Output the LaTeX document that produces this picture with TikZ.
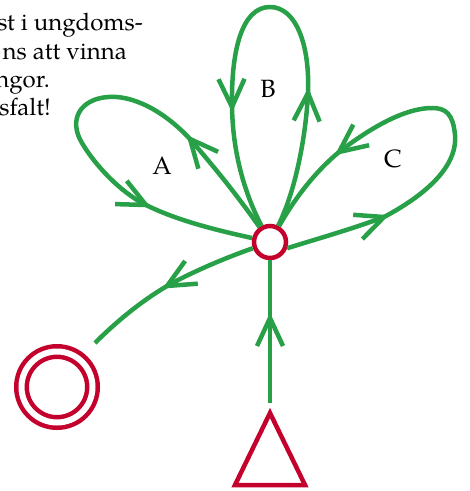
\documentclass[tikz,border=0pt]{standalone}
\usepackage{fontspec}
\setmainfont{TeX Gyre Pagella}
\usetikzlibrary{decorations.markings}
\definecolor{gr}{RGB}{40,160,72}
\definecolor{rd}{RGB}{196,0,44}
\begin{document}
\begin{tikzpicture}[x=1pt,y=-1pt,
  edge/.style={draw=gr, line width=4.5pt},
  arrowend/.style={postaction={decorate}, decoration={markings, mark=at position 0.9999 with {\draw[gr, line width=4.5pt, line cap=butt, line join=miter] (-28pt,13pt) -- (0pt,0pt) -- (-28pt,-13pt);}}},
  state/.style={circle, draw=rd, line width=4.5pt, inner sep=0pt, minimum size=32pt},
  final/.style={circle, draw=rd, line width=4.5pt, double=white, double distance=6pt, inner sep=0pt, minimum size=71pt},
  lbl/.style={font=\fontsize{25}{30}\selectfont, inner sep=0pt},
  txt/.style={font=\fontsize{24}{29}\selectfont, inner sep=0pt, anchor=base east}]
\useasboundingbox (0,0) rectangle (470,491);
% text
\node[txt] (t1) at (143,30) {st i ungdoms-};
\node[txt] (t2) at (127,59) {ns att vinna};
\node[txt] (t3) at (50,87) {ngor.};
\node[txt] (t4) at (51,115) {sfalt!};
% states
\node[state] (c) at (270,242) {};
\node[final] (f) at (57,387) {};
\draw[rd, line width=4.5pt, line join=miter] (270,413) -- (305,485) -- (235,485) -- cycle;
\coordinate (tri) at (270,403);
% labels
\node[lbl] (la) at (162,166) {A};
\node[lbl] (lb) at (268,89) {B};
\node[lbl] (lc) at (393,159) {C};
% coordinates
\coordinate (a1) at (190,139);
\coordinate (atop) at (108,97);
\coordinate (a2) at (146,205);
\coordinate (b1) at (308,93);
\coordinate (btop) at (270,7);
\coordinate (b2) at (232,107);
\coordinate (c1) at (384,217);
\coordinate (crt) at (455,135);
\coordinate (ctop) at (432,108);
\coordinate (c2) at (339,152);
\coordinate (l1) at (167,286);
\coordinate (lend) at (95,343);
\coordinate (v1) at (270,318);
% loop A
\draw[edge, arrowend] (c) .. controls (232,188) and (208,160) .. (a1);
\draw[edge] (a1) .. controls (163,110) and (132,95) .. (atop);
\draw[edge, arrowend] (atop) .. controls (80,99) and (68,120) .. (82,143) .. controls (95,165) and (120,192) .. (a2);
\draw[edge] (a2) .. controls (180,222) and (225,232) .. (c);
% loop B
\draw[edge, arrowend] (c) .. controls (296,190) and (306,135) .. (b1);
\draw[edge] (b1) .. controls (310,45) and (296,7) .. (btop);
\draw[edge, arrowend] (btop) .. controls (242,7) and (231,50) .. (b2);
\draw[edge] (b2) .. controls (233,160) and (248,200) .. (c);
% loop C
\draw[edge, arrowend] (c.-20) .. controls (320,238) and (355,228) .. (c1);
\draw[edge] (c1) .. controls (418,199) and (458,170) .. (crt);
\draw[edge, arrowend] (crt) .. controls (453,114) and (446,108) .. (ctop) .. controls (402,108) and (365,132) .. (c2);
\draw[edge] (c2) .. controls (315,172) and (295,198) .. (c);
% exit
\draw[edge, arrowend] (c.200) .. controls (225,258) and (192,272) .. (l1);
\draw[edge] (l1) .. controls (140,302) and (116,322) .. (lend);
% entry
\draw[edge, arrowend] (tri) -- (v1);
\draw[edge] (v1) -- (c);
\end{tikzpicture}
\end{document}
